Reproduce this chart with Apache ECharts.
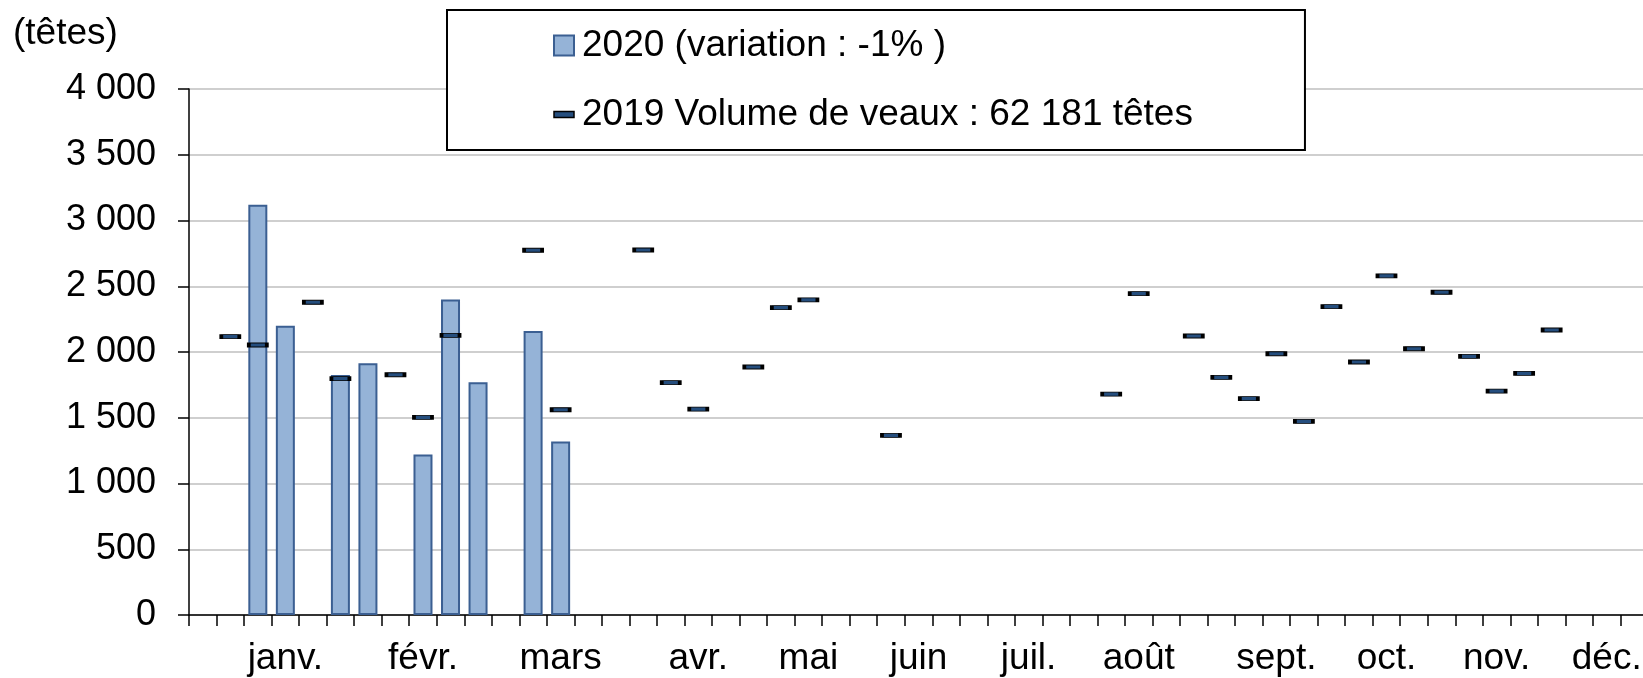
<!DOCTYPE html>
<html>
<head>
<meta charset="utf-8">
<script src="https://cdn.jsdelivr.net/npm/echarts@6/dist/echarts.min.js"></script>
<style>
html,body{margin:0;padding:0;background:#fff;}
#chart{width:1643px;height:678px;}
</style>
</head>
<body>
<div id="chart"></div>
<script>
// Weeks of the year (categories)
const weeks = [1,2,3,4,5,6,7,8,9,10,11,12,13,14,15,16,17,18,19,20,21,22,23,24,25,26,27,28,29,30,31,32,33,34,35,36,37,38,39,40,41,42,43,44,45,46,47,48,49,50,51,52,53];
// Month tick labels placed on given weeks
const monthWeeks  = [4, 9, 14, 19, 23, 27, 31, 35, 40, 44, 48, 52];
const monthLabels = ['janv.', 'févr.', 'mars', 'avr.', 'mai', 'juin', 'juil.', 'août', 'sept.', 'oct.', 'nov.', 'déc.'];
// 2020 weekly volumes (bars)
const vol2020 = [null, null, 3120, 2200, null, 1825, 1915, null, 1220, 2400, 1770, null, 2160, 1320,
  null,null,null,null,null,null,null,null,null,null,null,null,null,null,null,null,null,null,null,null,null,null,null,null,null,null,null,null,null,null,null,null,null,null,null,null,null,null,null];
// 2019 weekly volumes (markers)
const vol2019 = [null, 2117, 2053, null, 2378, 1797, null, 1827, 1503, 2127, null, null, 2774, 1561,
  null, null, 2776, 1767, 1566, null, 1886, 2337, 2396, null, null, 1366,
  null, null, null, null, null, null, null, 1680, 2444, null, 2122, 1807, 1645, 1987, 1473, 2345, 1924, 2579, 2025, 2454, 1967, 1703, 1838, 2167,
  null, null, null];
const yTicks = [0, 500, 1000, 1500, 2000, 2500, 3000, 3500, 4000];

const name2020 = '2020 (variation : -1% )';
const name2019 = '2019 Volume de veaux : 62 181 têtes';
const FONT = '"Liberation Sans", Arial, sans-serif';

const labelByWeek = {};
monthWeeks.forEach((w, i) => { labelByWeek[w] = monthLabels[i]; });

const scatterData = [];
vol2019.forEach((v, i) => { if (v != null) scatterData.push([String(weeks[i]), v]); });

function fmt(v) { return String(v).replace(/\B(?=(\d{3})+(?!\d))/g, ' '); }

const chart = echarts.init(document.getElementById('chart'), null, {renderer: 'canvas'});
chart.setOption({
  animation: false,
  backgroundColor: '#fff',
  title: {
    text: '(têtes)', left: 8, top: 10,
    textStyle: {fontSize: 37, fontWeight: 'normal', color: '#000', fontFamily: FONT}
  },
  legend: {
    orient: 'vertical',
    left: 447, top: 10,
    padding: [17, 112, 17, 106],
    itemGap: 32,
    itemWidth: 20, itemHeight: 20,
    backgroundColor: '#fff',
    borderColor: '#000', borderWidth: 2,
    textStyle: {fontSize: 37, color: '#000', fontFamily: FONT, padding: [0, 0, 0, 3]},
    data: [
      {name: name2020, icon: 'rect', itemStyle: {color: '#95B3D7', borderColor: '#3B5F92', borderWidth: 2}},
      {name: name2019, icon: 'path://M0,0H20V6H0Z', itemStyle: {color: '#254E7E', borderColor: '#000', borderWidth: 1.5}}
    ],
    z: 10
  },
  grid: {left: 189, top: 89, width: 1459, height: 526, containLabel: false, outerBoundsMode: 'none'},
  xAxis: {
    type: 'category',
    data: weeks.map(String),
    boundaryGap: true,
    axisLine: {lineStyle: {color: '#000', width: 1.5}},
    axisTick: {show: true, interval: 0, length: 11, lineStyle: {color: '#000', width: 1.5}},
    axisLabel: {
      interval: 0, margin: 25, fontSize: 37, color: '#000', fontFamily: FONT,
      formatter: (val) => labelByWeek[+val] || ''
    },
    splitLine: {show: false}
  },
  yAxis: {
    type: 'value', min: 0, max: 4000, interval: 500,
    axisLine: {show: true, lineStyle: {color: '#000', width: 1.5}},
    axisTick: {show: true, length: 11, lineStyle: {color: '#000', width: 1.5}},
    axisLabel: {margin: 33, fontSize: 36, color: '#000', fontFamily: FONT, formatter: (v) => fmt(v)},
    splitLine: {show: true, lineStyle: {color: '#BFBFBF', width: 1.5}}
  },
  series: [
    {
      name: name2020, type: 'bar', data: vol2020, barWidth: 19,
      itemStyle: {color: '#95B3D7', borderColor: '#3B5F92', borderWidth: 2}
    },
    {
      name: name2019, type: 'scatter', data: scatterData,
      symbol: 'rect', symbolSize: [18, 4], z: 5,
      itemStyle: {color: '#254E7E', borderColor: '#000', borderWidth: 1.8, opacity: 1}
    }
  ]
});
</script>
</body>
</html>
